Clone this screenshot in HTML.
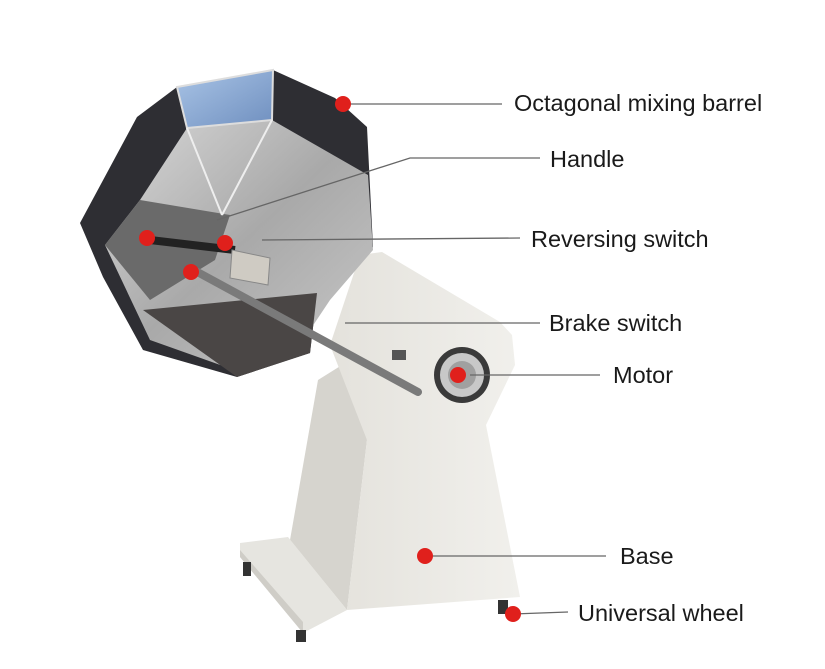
<!DOCTYPE html>
<html><head><style>
html,body{margin:0;padding:0;background:#fff;}
svg{display:block}
text{font-family:"Liberation Sans",sans-serif;font-size:23.5px;fill:#1a1a1a}
</style></head><body>
<svg width="825" height="669" viewBox="0 0 825 669">
<defs>
<linearGradient id="sil" x1="0" y1="0" x2="1" y2="1"><stop offset="0" stop-color="#d9d9d9"/><stop offset=".5" stop-color="#a9a9a9"/><stop offset="1" stop-color="#c8c8c8"/></linearGradient>
<linearGradient id="blue" x1="0" y1="0" x2="1" y2="1"><stop offset="0" stop-color="#a9c4e6"/><stop offset="1" stop-color="#6f8fbf"/></linearGradient>
<linearGradient id="beige" x1="0" y1="0" x2="1" y2="0"><stop offset="0" stop-color="#e4e2dc"/><stop offset="1" stop-color="#f1f0ec"/></linearGradient>
</defs>
<!-- stand -->
<polygon points="318,380 350,360 367,440 347,610 290,540" fill="#d6d4ce"/>
<polygon points="360,255 382,252 500,322 512,335 515,365 486,425 520,597 347,610 367,440 330,345" fill="url(#beige)"/>
<polygon points="240,543 288,537 347,610 303,633 240,557" fill="#e6e5e0"/>
<polygon points="240,550 303,622 303,633 240,557" fill="#cfcdc7"/>
<rect x="243" y="562" width="8" height="14" fill="#333"/>
<rect x="296" y="630" width="10" height="12" fill="#333"/>
<rect x="498" y="600" width="10" height="14" fill="#333"/>
<!-- barrel -->
<polygon points="177,87 273,70 335,98 367,127 373,247 317,293 310,353 237,377 143,350 103,277 80,223 137,117" fill="#2e2e33"/>
<polygon points="187,128 272,120 368,175 373,250 330,300 300,345 240,372 150,340 105,245 140,200" fill="url(#sil)"/>
<polygon points="177,87 273,70 272,120 187,128" fill="url(#blue)" stroke="#ddd" stroke-width="2"/>
<polygon points="143,310 317,293 310,353 237,377" fill="#4a4645"/>
<polygon points="105,245 140,200 230,215 215,260 150,300" fill="#6a6a6a"/>
<line x1="187" y1="128" x2="222" y2="215" stroke="#eee" stroke-width="2"/>
<line x1="272" y1="120" x2="222" y2="215" stroke="#eee" stroke-width="2"/>
<line x1="150" y1="240" x2="235" y2="250" stroke="#222" stroke-width="8"/>
<!-- handle rod -->
<line x1="190" y1="268" x2="418" y2="392" stroke="#7a7a7a" stroke-width="8" stroke-linecap="round"/>
<polygon points="232,250 270,258 268,285 230,278" fill="#cfcbc3" stroke="#888"/>
<rect x="392" y="350" width="14" height="10" fill="#555"/>
<!-- motor -->
<circle cx="462" cy="375" r="28" fill="#3a3a3a"/>
<circle cx="462" cy="375" r="22" fill="#c8c8c8"/>
<circle cx="462" cy="375" r="14" fill="#a0a0a0"/>
<!-- leader lines -->
<g stroke="#666" stroke-width="1.3" fill="none">
<line x1="343" y1="104" x2="502" y2="104"/>
<polyline points="217,220 410,158 540,158"/>
<line x1="262" y1="240" x2="520" y2="238"/>
<line x1="345" y1="323" x2="540" y2="323"/>
<line x1="470" y1="375" x2="600" y2="375"/>
<line x1="425" y1="556" x2="606" y2="556"/>
<line x1="513" y1="614" x2="568" y2="612"/>
</g>
<g fill="#e0201c">
<circle cx="343" cy="104" r="8"/>
<circle cx="147" cy="238" r="8"/>
<circle cx="225" cy="243" r="8"/>
<circle cx="191" cy="272" r="8"/>
<circle cx="458" cy="375" r="8"/>
<circle cx="425" cy="556" r="8"/>
<circle cx="513" cy="614" r="8"/>
</g>
<text x="514" y="111">Octagonal mixing barrel</text>
<text x="550" y="167">Handle</text>
<text x="531" y="247">Reversing switch</text>
<text x="549" y="331">Brake switch</text>
<text x="613" y="383">Motor</text>
<text x="620" y="564">Base</text>
<text x="578" y="621">Universal wheel</text>
</svg>
</body></html>
